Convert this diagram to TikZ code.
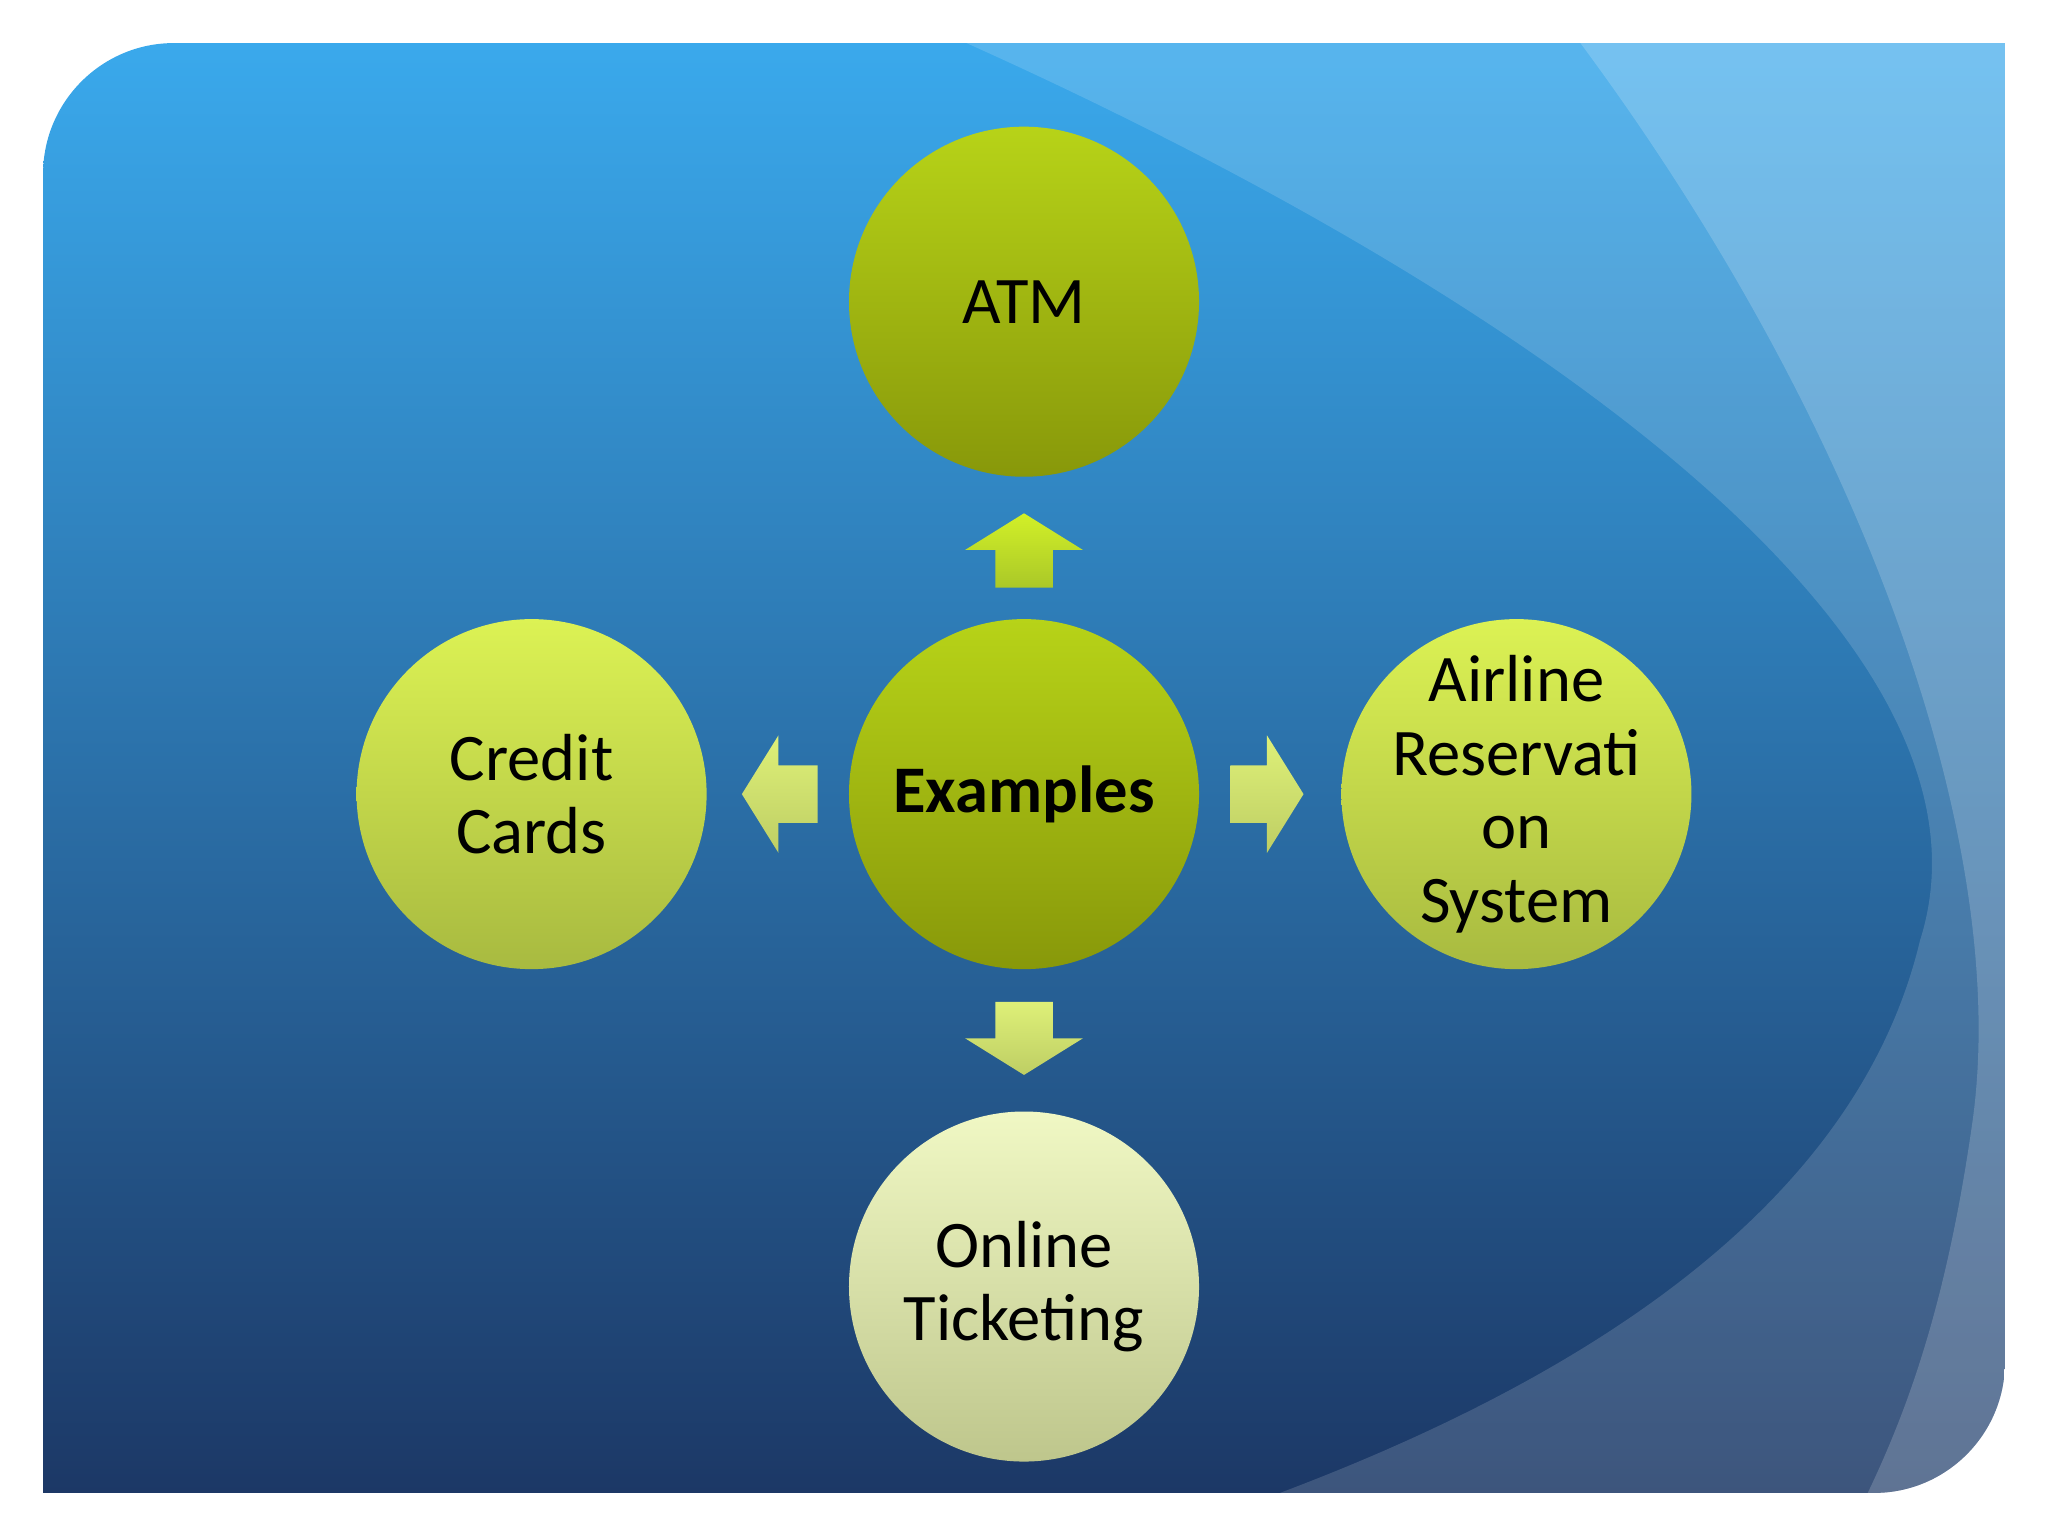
\documentclass[tikz,border=0pt]{standalone}
\usepackage{fontspec}
\setmainfont{Carlito}
\definecolor{bgtop}{HTML}{3AA9EC}
\definecolor{bgbot}{HTML}{1C3866}
\definecolor{dkt}{HTML}{B7D318}
\definecolor{dkb}{HTML}{88980A}
\definecolor{ltt}{HTML}{DCF254}
\definecolor{ltb}{HTML}{A8BA40}
\definecolor{plt}{HTML}{F0F8C4}
\definecolor{plb}{HTML}{BEC68C}
\definecolor{art}{HTML}{D2F028}
\definecolor{arb}{HTML}{AAC828}
\definecolor{alt}{HTML}{DEF078}
\definecolor{alb}{HTML}{BECE64}
\tikzset{
  dk/.style={circle,minimum size=2.68cm,inner sep=0pt,top color=dkt,bottom color=dkb},
  lt/.style={dk,top color=ltt,bottom color=ltb},
  pl/.style={dk,top color=plt,bottom color=plb},
  txt/.style={align=center,inner sep=0pt,font=\fontsize{14.5}{16}\selectfont},
  arr/.style={top color=art,bottom color=arb},
  arl/.style={top color=alt,bottom color=alb}
}
\begin{document}
\begin{tikzpicture}[yscale=-1]
\useasboundingbox (0,0) rectangle (15.68,11.76);
\fill[white] (0,0) rectangle (15.68,11.76);
\begin{scope}
\clip (0.33,11.43) -- (0.33,1.33) .. controls (0.33,0.78) and (0.78,0.33) .. (1.33,0.33) -- (15.35,0.33) -- (15.35,10.43) .. controls (15.35,10.98) and (14.9,11.43) .. (14.35,11.43) -- cycle;
\shade[top color=bgtop,bottom color=bgbot] (0.33,0.33) rectangle (15.35,11.43);
\fill[white,opacity=0.15] (7.4,0.33) .. controls (12,2.4) and (15.4,5) .. (14.7,7.2) .. controls (14.2,9.3) and (12,10.6) .. (9.8,11.43) -- (15.4,11.43) -- (15.4,0.33) -- cycle;
\fill[white,opacity=0.18] (12.1,0.33) .. controls (14.3,3.3) and (15.4,6.5) .. (15.1,8.6) .. controls (14.9,10) and (14.6,10.8) .. (14.3,11.43) -- (15.4,11.43) -- (15.4,0.33) -- cycle;
\end{scope}
\node[dk] (atm) at (7.84,2.31) {};
\node[dk] (ex) at (7.84,6.08) {};
\node[lt] (cc) at (4.07,6.08) {};
\node[lt] (ar) at (11.61,6.08) {};
\node[pl] (ot) at (7.84,9.85) {};
\node[txt] (atmt) at (atm) {ATM};
\node[txt,font=\fontsize{14.5}{16}\selectfont\bfseries] (ext) at (ex) {Examples};
\node[txt] (cct) at (cc) {Credit\\Cards};
\node[txt] (art) at (ar) {Airline\\Reservati\\on\\System};
\node[txt] (ott) at (ot) {Online\\Ticketing};
\shade[arr] (7.39,4.21) -- (7.84,3.93) -- (8.29,4.21) -- (8.06,4.21) -- (8.06,4.50) -- (7.62,4.50) -- (7.62,4.21) -- cycle;
\shade[arl] (7.39,7.95) -- (7.84,8.23) -- (8.29,7.95) -- (8.06,7.95) -- (8.06,7.67) -- (7.62,7.67) -- (7.62,7.95) -- cycle;
\shade[arl] (5.96,5.63) -- (5.68,6.08) -- (5.96,6.53) -- (5.96,6.30) -- (6.26,6.30) -- (6.26,5.86) -- (5.96,5.86) -- cycle;
\shade[arl] (9.70,5.63) -- (9.98,6.08) -- (9.70,6.53) -- (9.70,6.30) -- (9.42,6.30) -- (9.42,5.86) -- (9.70,5.86) -- cycle;
\end{tikzpicture}
\end{document}
